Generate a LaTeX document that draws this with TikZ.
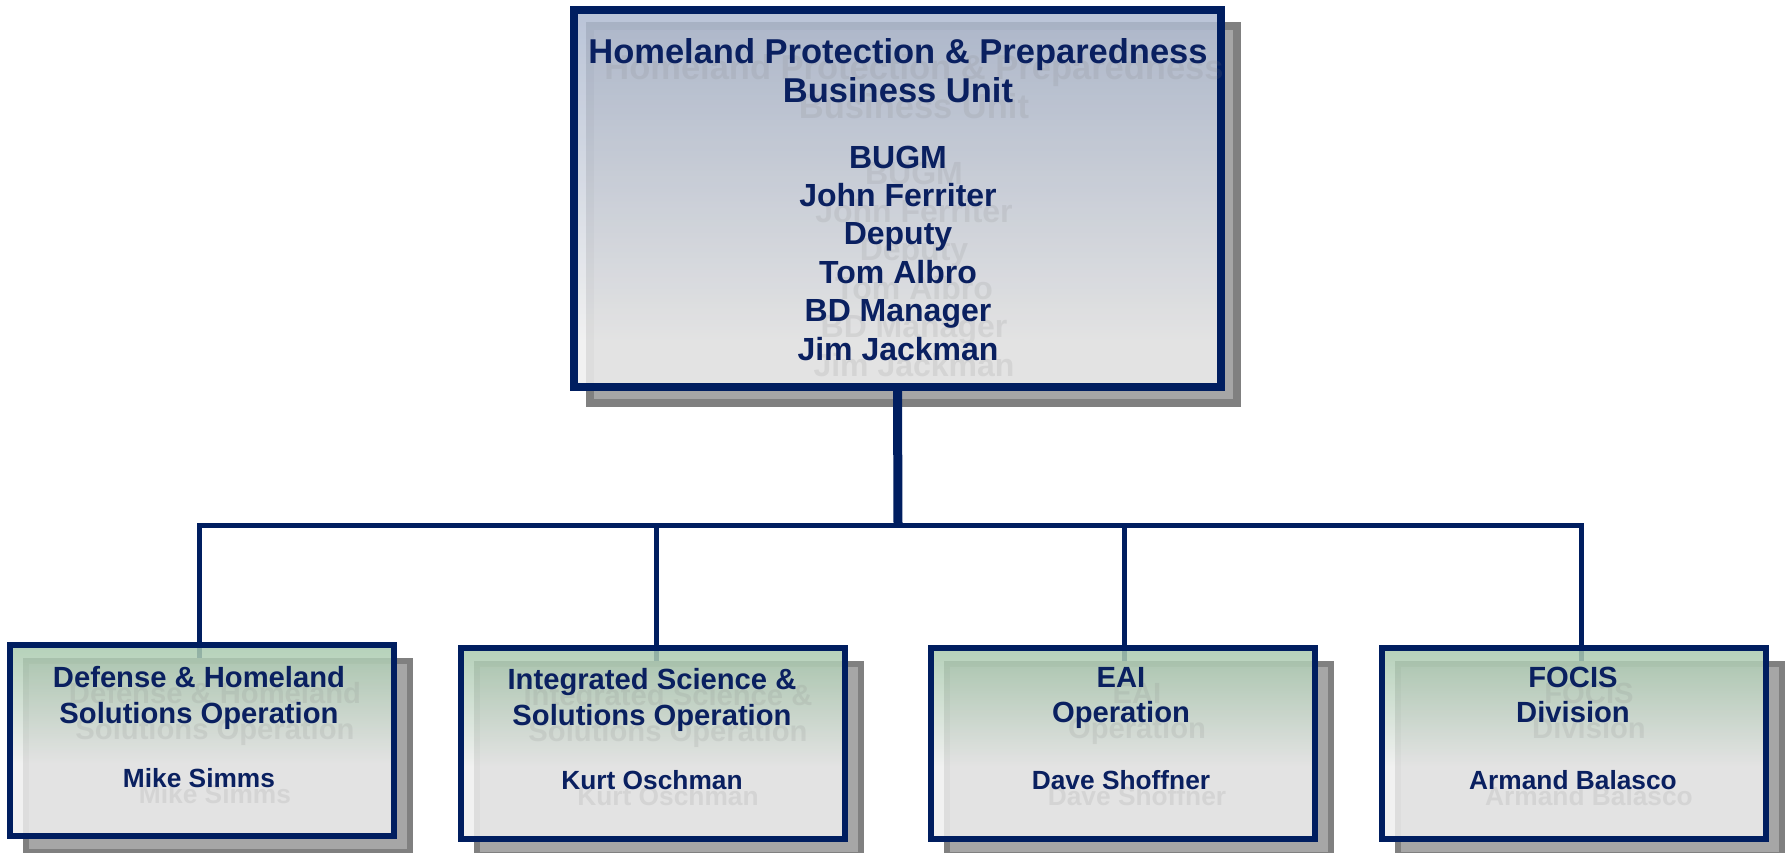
\documentclass[tikz,border=0pt]{standalone}
\usepackage{fontspec}
\setmainfont{Liberation Sans}
\definecolor{navy}{RGB}{0,30,96}
\definecolor{txtnavy}{RGB}{10,32,96}
\definecolor{topblue}{RGB}{173,185,208}
\definecolor{lightgr}{RGB}{238,238,238}
\definecolor{boxgreen}{RGB}{168,201,173}
\definecolor{shfill}{RGB}{166,166,166}
\definecolor{shline}{RGB}{128,128,128}
\pgfdeclareverticalshading{bluefade}{100bp}{color(0bp)=(lightgr); color(25bp)=(lightgr); color(31bp)=(lightgr); color(75bp)=(topblue); color(100bp)=(topblue)}
\pgfdeclareverticalshading{greenfade}{100bp}{color(0bp)=(lightgr); color(25bp)=(lightgr); color(44bp)=(lightgr); color(75bp)=(boxgreen); color(100bp)=(boxgreen)}
\tikzset{
  bigbox/.style={minimum width=647pt, minimum height=377pt, inner sep=0pt, line width=8pt},
  smallbox/.style={minimum width=384pt, minimum height=191pt, inner sep=0pt, line width=6pt},
  shbox/.style={fill=shfill, draw=shline},
  topfill/.style={draw=navy, shading=bluefade, fill opacity=0.85},
  subfill/.style={draw=navy, shading=greenfade, fill opacity=0.85},
  mainconn/.style={draw=navy, line width=9pt},
  branch/.style={draw=navy, line width=5pt},
  txt/.style={anchor=base, inner sep=0pt, text=txtnavy},
  ghost/.style={anchor=base, inner sep=0pt, text=shline, text opacity=0.15},
  ttl/.style={font=\fontsize{34.5}{40}\selectfont\bfseries},
  bdy/.style={font=\fontsize{32}{38}\selectfont\bfseries},
  sttl/.style={font=\fontsize{29.2}{35}\selectfont\bfseries},
  snm/.style={font=\fontsize{26.3}{31}\selectfont\bfseries}
}
\newcommand{\ghostlbl}[5]{\node[ghost,#4] (#1g) at (#2+16,#3+16) {#5};}
\newcommand{\mainlbl}[5]{\node[txt,#4] (#1) at (#2,#3) {#5};}
\newcommand{\alltexts}[1]{%
  #1{t1}{898}{63}{ttl}{Homeland Protection \& Preparedness}
  #1{t2}{898}{102}{ttl}{Business Unit}
  #1{t3}{898}{168}{bdy}{BUGM}
  #1{t4}{898}{206.4}{bdy}{John Ferriter}
  #1{t5}{898}{244.8}{bdy}{Deputy}
  #1{t6}{898}{283.2}{bdy}{Tom Albro}
  #1{t7}{898}{321.6}{bdy}{BD Manager}
  #1{t8}{898}{360}{bdy}{Jim Jackman}
  #1{a1}{199}{687}{sttl}{Defense \& Homeland}
  #1{a2}{199}{723}{sttl}{Solutions Operation}
  #1{a3}{199}{787}{snm}{Mike Simms}
  #1{b1}{652}{689}{sttl}{Integrated Science \&}
  #1{b2}{652}{725}{sttl}{Solutions Operation}
  #1{b3}{652}{789}{snm}{Kurt Oschman}
  #1{c1}{1121}{687}{sttl}{EAI}
  #1{c2}{1121}{722}{sttl}{Operation}
  #1{c3}{1121}{789}{snm}{Dave Shoffner}
  #1{d1}{1573}{687}{sttl}{FOCIS}
  #1{d2}{1573}{722}{sttl}{Division}
  #1{d3}{1573}{789}{snm}{Armand Balasco}
}
\begin{document}
\begin{tikzpicture}[x=1pt,y=-1pt]
  \useasboundingbox (0,0) rectangle (1785,852);
  % shadows
  \node[bigbox, shbox] (tops) at (913.5,214.5) {};
  \node[smallbox, shbox] (bx1s) at (218,756.5) {};
  \node[smallbox, shbox] (bx2s) at (669,759.5) {};
  \node[smallbox, shbox] (bx3s) at (1139,759) {};
  \node[smallbox, shbox] (bx4s) at (1589.5,759) {};
  % box positions (for connectors)
  \path (897.5,198.5) coordinate (topc)
        (202,740.5) coordinate (bx1c)
        (653,743.5) coordinate (bx2c)
        (1123,743) coordinate (bx3c)
        (1573.5,743) coordinate (bx4c);
  \node[bigbox] (top) at (topc) {};
  \node[smallbox] (bx1) at (bx1c) {};
  \node[smallbox] (bx2) at (bx2c) {};
  \node[smallbox] (bx3) at (bx3c) {};
  \node[smallbox] (bx4) at (bx4c) {};
  % connectors
  \coordinate (hub) at (898,525.5);
  \draw[mainconn] (top.south) -- (hub);
  \draw[branch, shorten <=-16pt, shorten >=-16pt] ([xshift=-3pt]bx1.north) |- (hub) -| ([xshift=7.5pt]bx4.north);
  \draw[branch, shorten >=-16pt] ([xshift=3pt]bx2.north |- hub) -- ([xshift=3pt]bx2.north);
  \draw[branch, shorten >=-16pt] ([xshift=1pt]bx3.north |- hub) -- ([xshift=1pt]bx3.north);
  % boxes
  \node[bigbox, topfill] (topf) at (topc) {};
  \node[smallbox, subfill] (bx1f) at (bx1c) {};
  \node[smallbox, subfill] (bx2f) at (bx2c) {};
  \node[smallbox, subfill] (bx3f) at (bx3c) {};
  \node[smallbox, subfill] (bx4f) at (bx4c) {};
  % texts: ghosts first, then main
  \alltexts\ghostlbl
  \alltexts\mainlbl
\end{tikzpicture}
\end{document}
